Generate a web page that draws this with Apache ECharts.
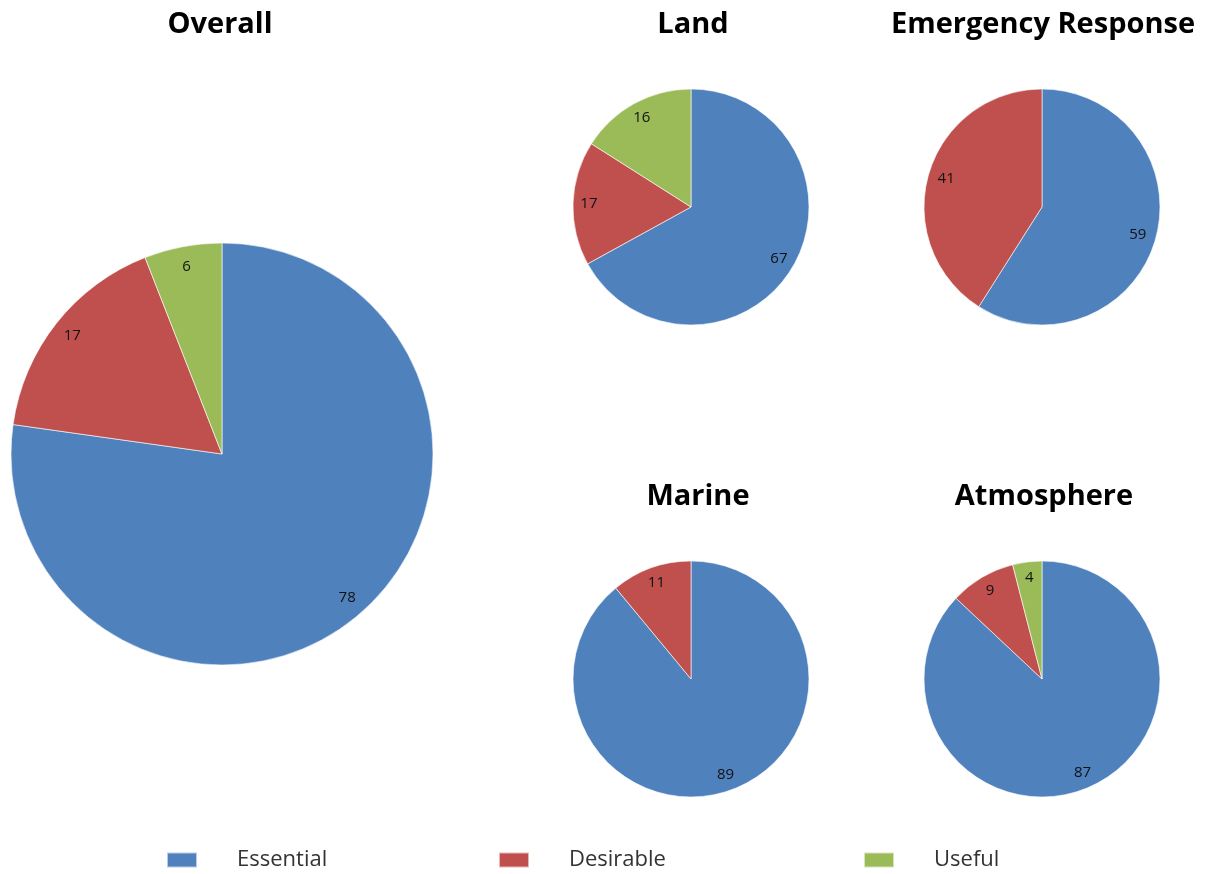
<!DOCTYPE html>
<html>
<head>
<meta charset="utf-8">
<title>Pies</title>
<script src="https://cdn.jsdelivr.net/npm/echarts@6/dist/echarts.min.js"></script>
<style>
  html, body { margin: 0; padding: 0; background: #fff; }
  #chart { width: 1209px; height: 874px; }
</style>
</head>
<body>
<div id="chart"></div>
<script>
const categories = ['Essential', 'Desirable', 'Useful']
const colors = ['#4f81bd', '#c0504d', '#9bbb59']

const overall = [78, 17, 6]
const land = [67, 17, 16]
const emergency = [59, 41, 0]
const marine = [89, 11, 0]
const atmosphere = [87, 9, 4]

// title, values, center, radius, label ring inner radius, title position
const pies = [
  { title: 'Overall', values: overall, center: [222, 454], r: 211, inner: 0.78, tx: 215, top: 5 },
  { title: 'Land', values: land, center: [691, 207], r: 118, inner: 0.68, tx: 688, top: 5 },
  { title: 'Emergency Response', values: emergency, center: [1042, 207], r: 118, inner: 0.64, tx: 1038, top: 5 },
  { title: 'Marine', values: marine, center: [691, 679], r: 118, inner: 0.68, tx: 693, top: 477 },
  { title: 'Atmosphere', values: atmosphere, center: [1042, 679], r: 118, inner: 0.68, tx: 1039, top: 477 }
]

const font = '"Open Sans", Lato, sans-serif'

const toData = values => values
  .map((v, i) => ({ name: categories[i], value: v }))
  .filter(d => d.value > 0)

const series = []
const titles = []
pies.forEach(p => {
  titles.push({
    text: p.title,
    left: p.tx,
    top: p.top,
    textAlign: 'center',
    textStyle: { fontFamily: font, fontSize: 29, fontWeight: 'bold', color: '#000' }
  })
  // visible pie
  series.push({
    type: 'pie',
    center: p.center,
    radius: [0, p.r],
    startAngle: 90,
    clockwise: true,
    animation: false,
    silent: true,
    label: { show: false },
    labelLine: { show: false },
    itemStyle: { borderColor: 'rgba(255,255,255,0.6)', borderWidth: 1 },
    data: toData(p.values)
  })
  // transparent ring only used to put labels near the edge
  series.push({
    type: 'pie',
    center: p.center,
    radius: [p.r * p.inner, p.r],
    startAngle: 90,
    clockwise: true,
    animation: false,
    silent: true,
    legendHoverLink: false,
    itemStyle: { color: 'rgba(0,0,0,0)', borderWidth: 0 },
    label: {
      show: true,
      position: 'inside',
      formatter: '{c}',
      fontFamily: font,
      fontSize: 15,
      color: '#111'
    },
    labelLine: { show: false },
    data: toData(p.values)
  })
})

const legendAt = [166, 498, 863]
const legends = categories.map((c, i) => ({
  data: [c],
  left: legendAt[i],
  top: 849,
  padding: 0,
  itemWidth: 30,
  itemHeight: 15,
  icon: 'rect',
  selectedMode: false,
  textStyle: { fontFamily: font, fontSize: 22, color: '#333', padding: [4, 0, 0, 35] }
}))

const myChart = echarts.init(document.getElementById('chart'))
myChart.setOption({
  color: colors,
  backgroundColor: '#fff',
  title: titles,
  legend: legends,
  series: series
})
</script>
</body>
</html>
